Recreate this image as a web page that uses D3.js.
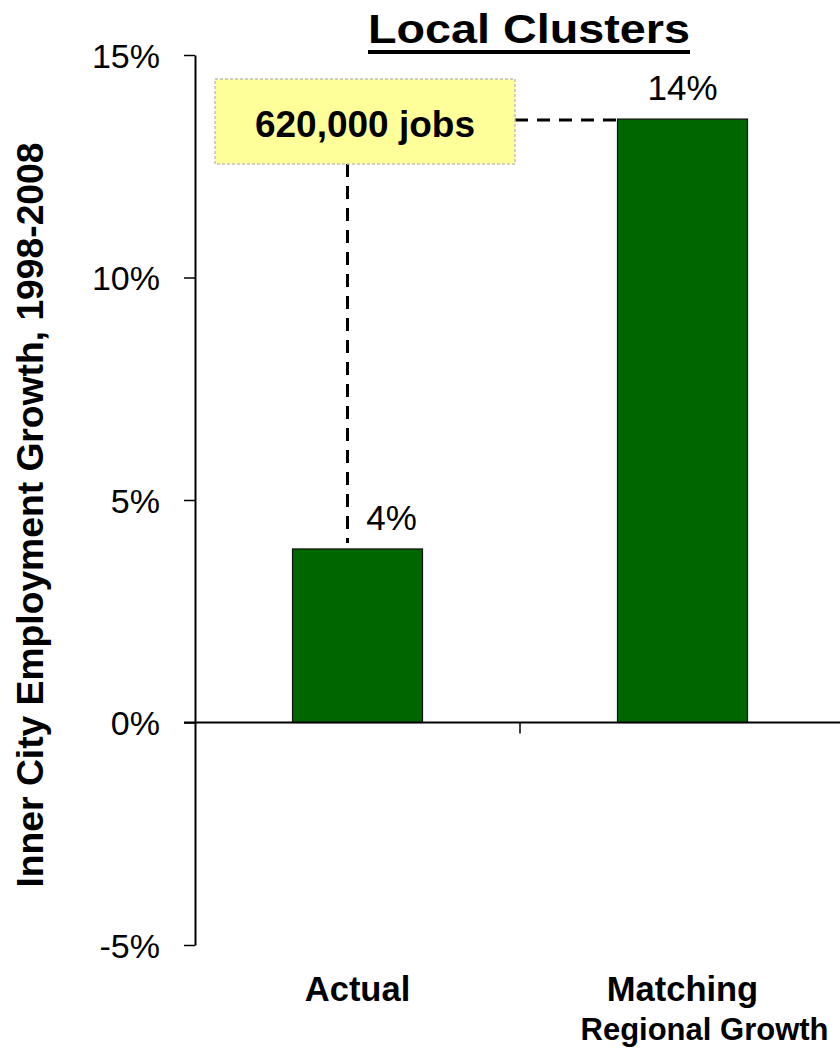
<!DOCTYPE html>
<html>
<head>
<meta charset="utf-8">
<script src="https://cdn.jsdelivr.net/npm/d3@7"></script>
<style>
  body { margin: 0; background: #fff; }
  svg { display: block; font-family: "Liberation Sans", Arial, sans-serif; }
</style>
</head>
<body>
<div id="chart"></div>
<script>
// Data
const categories = ['Actual', 'Matching Regional Growth']
const categoryLines = [['Actual'], ['Matching', 'Regional Growth']]
const growth = [0.039, 0.1356]
const barLabels = ['4%', '14%']
const yTicks = [-0.05, 0, 0.05, 0.10, 0.15]
const calloutText = '620,000 jobs'
const title = 'Local Clusters'
const yTitle = 'Inner City Employment Growth, 1998-2008'

// Dimensions
const dimensions = {
  width: 840,
  height: 1054,
  left: 195,
  right: 845,
  top: 55,
  bottom: 945
}

const svg = d3.select('#chart')
  .append('svg')
  .attr('width', dimensions.width)
  .attr('height', dimensions.height)

// Scales
const yScale = d3.scaleLinear()
  .domain([-0.05, 0.15])
  .range([dimensions.bottom, dimensions.top])

const xScale = d3.scaleBand()
  .domain(categories)
  .range([dimensions.left, dimensions.right])
  .paddingInner(0.6)
  .paddingOuter(0.3)

// Y axis
const yAxis = d3.axisLeft(yScale)
  .tickValues(yTicks)
  .tickSize(11)
  .tickSizeOuter(0)
  .tickPadding(24)

const yAxisGroup = svg.append('g')
  .attr('transform', `translate(${dimensions.left},0)`)
  .call(yAxis)
yAxisGroup.select('.domain').attr('stroke', '#000').attr('stroke-width', 2)
yAxisGroup.selectAll('.tick line').attr('stroke', '#000').attr('stroke-width', 1.5)
yAxisGroup.selectAll('.tick text')
  .attr('font-size', 34)
  .attr('fill', '#000')
  .attr('font-family', '"Liberation Sans", Arial, sans-serif')
  .attr('dy', '0.36em')
  .text(d => d3.format('.0%')(d).replace('−', '-'))

// Bars
svg.append('g')
  .selectAll('rect')
  .data(growth)
  .join('rect')
  .attr('x', (d, i) => xScale(categories[i]))
  .attr('y', d => yScale(d))
  .attr('width', xScale.bandwidth())
  .attr('height', d => yScale(0) - yScale(d))
  .attr('fill', '#006600')
  .attr('stroke', '#111')
  .attr('stroke-width', 1.2)

// X axis (zero line) with ticks at category boundaries
const zeroY = yScale(0)
svg.append('line')
  .attr('x1', dimensions.left - 11)
  .attr('x2', dimensions.right)
  .attr('y1', zeroY)
  .attr('y2', zeroY)
  .attr('stroke', '#000')
  .attr('stroke-width', 2)

const boundaries = categories.slice(1).map(c => xScale(c) - xScale.step() * xScale.paddingInner() / 2)
svg.append('g')
  .selectAll('line')
  .data(boundaries)
  .join('line')
  .attr('x1', d => d)
  .attr('x2', d => d)
  .attr('y1', zeroY)
  .attr('y2', zeroY + 11)
  .attr('stroke', '#000')
  .attr('stroke-width', 1.5)

// Category labels (at the bottom of the plot)
const catGroup = svg.append('g')
  .attr('font-weight', 'bold')
  .attr('text-anchor', 'middle')
categoryLines.forEach((lines, i) => {
  const cx = xScale(categories[i]) + xScale.bandwidth() / 2
  lines.forEach((line, j) => {
    const t = catGroup.append('text')
      .attr('x', cx + (j === 1 ? 22 : 0))
      .attr('y', 1001 + j * 39)
      .attr('font-size', j === 1 ? 32 : 34.5)
      .text(line)
    if (j === 1) t.attr('textLength', 248).attr('lengthAdjust', 'spacingAndGlyphs')
  })
})

// Value labels
svg.append('g')
  .selectAll('text')
  .data(growth)
  .join('text')
  .attr('x', (d, i) => xScale(categories[i]) + xScale.bandwidth() / 2 + (i === 0 ? 34 : 0))
  .attr('y', d => yScale(d) - 19)
  .attr('text-anchor', 'middle')
  .attr('font-size', 35)
  .text((d, i) => barLabels[i])

// Callout: dashed connectors and yellow box
const box = { x: 215, y: 79, w: 300, h: 85 }
const dashX = xScale(categories[0]) + xScale.bandwidth() / 2 - 10
svg.append('line')
  .attr('x1', dashX).attr('x2', dashX)
  .attr('y1', box.y + box.h)
  .attr('y2', yScale(growth[0]) - 6)
  .attr('stroke', '#000').attr('stroke-width', 3)
  .attr('stroke-dasharray', '13,9')
svg.append('line')
  .attr('x1', box.x + box.w).attr('x2', xScale(categories[1]))
  .attr('y1', yScale(growth[1]) + 1)
  .attr('y2', yScale(growth[1]) + 1)
  .attr('stroke', '#000').attr('stroke-width', 3)
  .attr('stroke-dasharray', '13,9')

svg.append('rect')
  .attr('x', box.x).attr('y', box.y)
  .attr('width', box.w).attr('height', box.h)
  .attr('fill', '#ffff99')
  .attr('stroke', '#c0c0c0')
  .attr('stroke-width', 1.5)
  .attr('stroke-dasharray', '3,2')
svg.append('text')
  .attr('x', box.x + box.w / 2)
  .attr('y', 137)
  .attr('text-anchor', 'middle')
  .attr('font-size', 37)
  .attr('font-weight', 'bold')
  .text(calloutText)

// Title with underline
const titleText = svg.append('text')
  .attr('x', 529)
  .attr('y', 43)
  .attr('text-anchor', 'middle')
  .attr('font-size', 40)
  .attr('font-weight', 'bold')
  .attr('textLength', 322)
  .attr('lengthAdjust', 'spacingAndGlyphs')
  .text(title)
const tb = titleText.node().getBBox()
svg.append('rect')
  .attr('x', tb.x)
  .attr('y', 50)
  .attr('width', tb.width)
  .attr('height', 4)
  .attr('fill', '#000')

// Y axis title
svg.append('text')
  .attr('transform', 'translate(43,515) rotate(-90)')
  .attr('text-anchor', 'middle')
  .attr('font-size', 37)
  .attr('font-weight', 'bold')
  .attr('textLength', 745)
  .attr('lengthAdjust', 'spacingAndGlyphs')
  .text(yTitle)
</script>
</body>
</html>
